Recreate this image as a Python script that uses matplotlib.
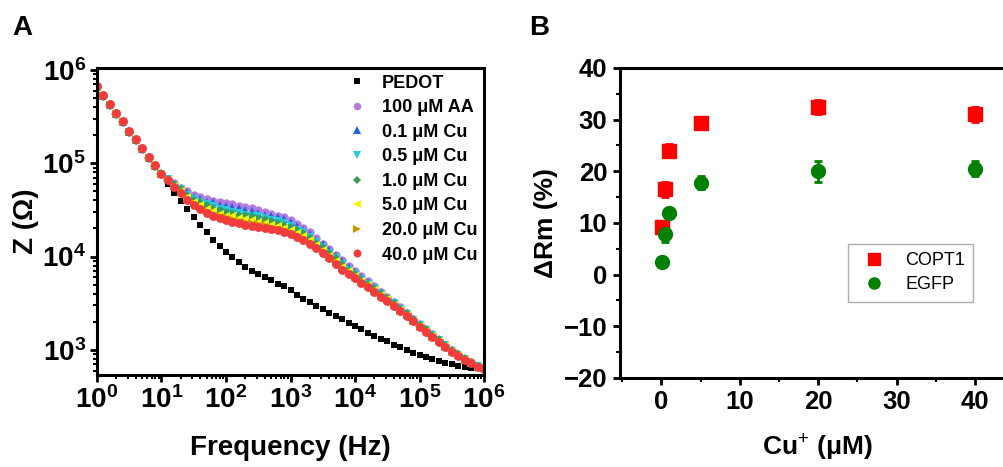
import numpy as np
import matplotlib
matplotlib.use('Agg')
import matplotlib.pyplot as plt
from matplotlib.ticker import LogLocator, MultipleLocator, NullFormatter

plt.rcParams['font.family'] = ['Liberation Sans', 'DejaVu Sans']
plt.rcParams['mathtext.fontset'] = 'custom'
plt.rcParams['mathtext.rm'] = 'Liberation Sans'
plt.rcParams['mathtext.bf'] = 'Liberation Sans:bold'

# ---- panel A data: impedance spectra (frequency in Hz, |Z| given as log10 ohm) ----
freq = [1, 1.26, 1.58, 2.0, 2.51, 3.16, 3.98, 5.01, 6.31, 7.94,
        10, 12.6, 15.8, 20.0, 25.1, 31.6, 39.8, 50.1, 63.1, 79.4,
        100, 126, 158, 200, 251, 316, 398, 501, 631, 794,
        1000, 1260, 1580, 2000, 2510, 3160, 3980, 5010, 6310, 7940,
        1e4, 1.26e4, 1.58e4, 2.0e4, 2.51e4, 3.16e4, 3.98e4, 5.01e4, 6.31e4, 7.94e4,
        1e5, 1.26e5, 1.58e5, 2.0e5, 2.51e5, 3.16e5, 3.98e5, 5.01e5, 6.31e5, 7.94e5,
        1e6]

logz_pedot = [5.82, 5.72, 5.63, 5.53, 5.44, 5.34, 5.25, 5.15, 5.06, 4.97,
              4.88, 4.78, 4.685, 4.60, 4.51, 4.42, 4.34, 4.26, 4.18, 4.11,
              4.05, 3.99, 3.94, 3.89, 3.85, 3.81, 3.78, 3.75, 3.71, 3.68,
              3.64, 3.59, 3.55, 3.51, 3.47, 3.435, 3.40, 3.36, 3.33, 3.29,
              3.26, 3.22, 3.18, 3.15, 3.12, 3.09, 3.055, 3.03, 3.00, 2.97,
              2.94, 2.92, 2.90, 2.88, 2.86, 2.85, 2.83, 2.82, 2.81, 2.80,
              2.79]
logz_aa = [5.82, 5.72, 5.63, 5.53, 5.44, 5.34, 5.25, 5.15, 5.06, 4.97,
           4.885, 4.83, 4.79, 4.74, 4.70, 4.66, 4.64, 4.615, 4.60, 4.58,
           4.57, 4.56, 4.545, 4.53, 4.52, 4.50, 4.48, 4.46, 4.44, 4.42,
           4.39, 4.35, 4.31, 4.26, 4.20, 4.14, 4.08, 4.02, 3.96, 3.90,
           3.84, 3.79, 3.735, 3.68, 3.625, 3.57, 3.515, 3.455, 3.395, 3.335,
           3.28, 3.225, 3.17, 3.11, 3.055, 3.0, 2.95, 2.905, 2.865, 2.83,
           2.80]
logz_cu01 = [5.82, 5.72, 5.63, 5.53, 5.44, 5.34, 5.25, 5.15, 5.06, 4.97,
             4.88, 4.83, 4.78, 4.73, 4.69, 4.64, 4.62, 4.59, 4.58, 4.55,
             4.54, 4.53, 4.52, 4.50, 4.49, 4.47, 4.45, 4.44, 4.42, 4.40,
             4.37, 4.33, 4.29, 4.24, 4.18, 4.13, 4.07, 4.01, 3.95, 3.89,
             3.83, 3.78, 3.73, 3.67, 3.62, 3.56, 3.51, 3.45, 3.39, 3.33,
             3.28, 3.22, 3.17, 3.11, 3.05, 3.00, 2.95, 2.90, 2.86, 2.83,
             2.80]
logz_cu05 = [5.82, 5.72, 5.63, 5.53, 5.44, 5.34, 5.25, 5.15, 5.06, 4.97,
             4.88, 4.83, 4.77, 4.72, 4.66, 4.62, 4.59, 4.56, 4.54, 4.51,
             4.50, 4.48, 4.47, 4.45, 4.44, 4.43, 4.41, 4.39, 4.38, 4.36,
             4.33, 4.29, 4.26, 4.21, 4.16, 4.10, 4.04, 3.98, 3.92, 3.86,
             3.81, 3.76, 3.71, 3.66, 3.60, 3.55, 3.50, 3.44, 3.38, 3.32,
             3.27, 3.21, 3.16, 3.10, 3.05, 2.99, 2.94, 2.90, 2.86, 2.83,
             2.80]
logz_cu1 = [5.82, 5.72, 5.63, 5.53, 5.44, 5.34, 5.25, 5.15, 5.06, 4.97,
            4.88, 4.82, 4.77, 4.71, 4.65, 4.60, 4.57, 4.54, 4.51, 4.49,
            4.47, 4.46, 4.44, 4.43, 4.42, 4.40, 4.39, 4.37, 4.35, 4.33,
            4.31, 4.27, 4.24, 4.19, 4.14, 4.09, 4.03, 3.97, 3.91, 3.85,
            3.80, 3.75, 3.70, 3.65, 3.60, 3.54, 3.49, 3.43, 3.38, 3.32,
            3.26, 3.21, 3.15, 3.10, 3.04, 2.99, 2.94, 2.90, 2.86, 2.82,
            2.80]
logz_cu5 = [5.82, 5.72, 5.63, 5.53, 5.44, 5.34, 5.25, 5.15, 5.06, 4.97,
            4.88, 4.82, 4.76, 4.70, 4.64, 4.58, 4.55, 4.51, 4.49, 4.46,
            4.44, 4.43, 4.41, 4.40, 4.39, 4.37, 4.36, 4.34, 4.33, 4.31,
            4.29, 4.25, 4.22, 4.18, 4.12, 4.07, 4.01, 3.95, 3.89, 3.84,
            3.79, 3.74, 3.69, 3.64, 3.59, 3.54, 3.48, 3.43, 3.37, 3.31,
            3.26, 3.20, 3.15, 3.09, 3.04, 2.99, 2.94, 2.90, 2.86, 2.82,
            2.80]
logz_cu20 = [5.82, 5.72, 5.63, 5.53, 5.44, 5.34, 5.25, 5.15, 5.06, 4.97,
             4.88, 4.82, 4.76, 4.69, 4.62, 4.57, 4.53, 4.49, 4.46, 4.44,
             4.42, 4.40, 4.38, 4.37, 4.36, 4.35, 4.34, 4.32, 4.30, 4.28,
             4.26, 4.23, 4.20, 4.16, 4.11, 4.06, 4.00, 3.94, 3.88, 3.82,
             3.78, 3.73, 3.68, 3.63, 3.58, 3.53, 3.48, 3.42, 3.37, 3.31,
             3.25, 3.20, 3.14, 3.09, 3.03, 2.98, 2.94, 2.89, 2.86, 2.82,
             2.80]
logz_cu40 = [5.83, 5.73, 5.64, 5.54, 5.45, 5.35, 5.26, 5.16, 5.07, 4.98,
             4.89, 4.82, 4.75, 4.68, 4.61, 4.55, 4.51, 4.47, 4.44, 4.41,
             4.39, 4.37, 4.355, 4.34, 4.33, 4.32, 4.31, 4.295, 4.28, 4.26,
             4.24, 4.21, 4.18, 4.14, 4.09, 4.04, 3.98, 3.92, 3.86, 3.81,
             3.77, 3.72, 3.67, 3.62, 3.57, 3.52, 3.47, 3.415, 3.36, 3.305,
             3.25, 3.195, 3.14, 3.085, 3.03, 2.98, 2.935, 2.89, 2.855, 2.82,
             2.795]

labels_a = ['PEDOT', '100 μM AA', '0.1 μM Cu', '0.5 μM Cu', '1.0 μM Cu',
            '5.0 μM Cu', '20.0 μM Cu', '40.0 μM Cu']

# ---- panel B data ----
cu_conc = [0.1, 0.5, 1, 5, 20, 40]
copt1 = [9.2, 16.5, 24.0, 29.4, 32.4, 31.0]
copt1_err = [0.8, 1.5, 1.2, 1.1, 1.3, 1.4]
egfp = [2.4, 7.9, 11.9, 17.8, 20.0, 20.5]
egfp_err = [0.5, 1.5, 0.8, 1.3, 2.0, 1.5]

fig = plt.figure(figsize=(10.04, 4.67), dpi=100)

# ---------------- panel A ----------------
ax = fig.add_axes([0.0966, 0.197, 0.3855, 0.657])
series = [logz_pedot, logz_aa, logz_cu01, logz_cu05, logz_cu1, logz_cu5, logz_cu20, logz_cu40]
markers = ['s', 'o', '^', 'v', 'D', '<', '>', 'o']
colors = ['black', '#B47CE0', '#1F66E0', '#22CCD8', '#3A9E5A', '#F5F500', '#CC9900', '#F23C3C']
sizes = [4.4, 6.0, 6.0, 6.0, 5.0, 6.0, 6.0, 6.4]
for s, m, c, ms, lab in zip(series, markers, colors, sizes, labels_a):
    ax.plot(freq, 10 ** np.array(s), linestyle='none', marker=m, color=c,
            markersize=ms, markeredgewidth=0, label=lab)
ax.set_xscale('log')
ax.set_yscale('log')
ax.set_xlim(1, 1e6)
ax.set_ylim(10 ** 2.73, 10 ** 6.02)
ax.set_xticks([10 ** i for i in range(7)])
ax.set_xticklabels([r'$\mathbf{10^{%d}}$' % i for i in range(7)])
ax.set_yticks([10 ** i for i in range(3, 7)])
ax.set_yticklabels([r'$\mathbf{10^{%d}}$' % i for i in range(3, 7)])
ax.xaxis.set_minor_locator(LogLocator(base=10, subs=np.arange(2, 10), numticks=20))
ax.yaxis.set_minor_locator(LogLocator(base=10, subs=np.arange(2, 10), numticks=20))
ax.xaxis.set_minor_formatter(NullFormatter())
ax.yaxis.set_minor_formatter(NullFormatter())
ax.tick_params(which='major', direction='out', length=5, width=2, labelsize=20, pad=3)
ax.tick_params(which='minor', direction='out', length=3, width=1.5)
for sp in ax.spines.values():
    sp.set_linewidth(2.2)
ax.set_xlabel('Frequency (Hz)', fontsize=20, fontweight='bold', labelpad=15)
ax.set_ylabel('Z (Ω)', fontsize=20, fontweight='bold', labelpad=2)
leg = ax.legend(loc='upper right', frameon=False, prop={'weight': 'bold', 'size': 13},
                handlelength=1.0, handletextpad=0.9, labelspacing=0.42,
                borderaxespad=0.0, borderpad=0.35, markerscale=0.9)
fig.text(0.012, 0.94, 'A', fontsize=20, fontweight='bold', va='center')

# ---------------- panel B ----------------
bx = fig.add_axes([0.6175, 0.1906, 0.3925, 0.664])
bx.errorbar(cu_conc, copt1, yerr=copt1_err, fmt='s', color='#FF0000', markersize=10,
            capsize=3, elinewidth=2, capthick=2, label='COPT1')
bx.errorbar(cu_conc, egfp, yerr=egfp_err, fmt='o', color='#008000', markersize=10,
            capsize=3, elinewidth=2, capthick=2, label='EGFP')
bx.set_xlim(-5.3, 45)
bx.set_ylim(-20, 40)
bx.xaxis.set_major_locator(MultipleLocator(10))
bx.xaxis.set_minor_locator(MultipleLocator(5))
bx.yaxis.set_major_locator(MultipleLocator(10))
bx.yaxis.set_minor_locator(MultipleLocator(5))
bx.tick_params(which='major', direction='out', length=5, width=2, labelsize=18.5, pad=4)
bx.tick_params(which='minor', direction='out', length=3, width=1.5)
for lab in bx.get_xticklabels() + bx.get_yticklabels():
    lab.set_fontweight('bold')
for sp in bx.spines.values():
    sp.set_linewidth(2.2)
bx.set_xlabel('Cu$^{+}$ (μM)', fontsize=19, fontweight='bold', labelpad=12)
bx.set_ylabel('ΔRm (%)', fontsize=19, fontweight='bold', labelpad=4)
handles, labs = bx.get_legend_handles_labels()
handles = [h[0] for h in handles]
bx.legend(handles, labs, loc='upper left', bbox_to_anchor=(0.579, 0.432), fontsize=13,
          frameon=True, fancybox=False, edgecolor='#999999', handlelength=2.0,
          handletextpad=0.7, borderpad=0.45, labelspacing=0.4, borderaxespad=0.0,
          markerscale=0.8)
fig.text(0.527, 0.94, 'B', fontsize=20, fontweight='bold', va='center')

fig.savefig('out.png', dpi=100)
